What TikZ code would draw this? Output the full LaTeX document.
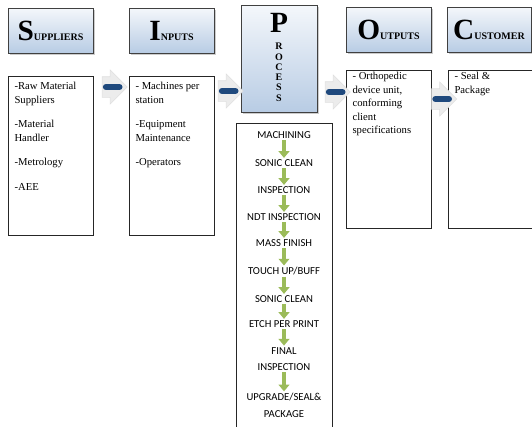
\documentclass[tikz,border=0pt]{standalone}
\usepackage{fontspec}
\setmainfont{Liberation Serif}
\newfontfamily\stagefont{Carlito}
\usetikzlibrary{arrows.meta,shapes.arrows,shadows}
\definecolor{headtop}{HTML}{F4F7FB}
\definecolor{headbot}{HTML}{B8CCE4}
\definecolor{barblue}{HTML}{1F497D}
\definecolor{stagegreen}{HTML}{9BBB59}

\begin{document}
\begin{tikzpicture}[x=0.75pt,y=-0.75pt]
    \tikzstyle{head}=[draw=black!75,top color=headtop,bottom color=headbot,
                      drop shadow={shadow xshift=1.2pt,shadow yshift=-1.2pt,fill=black!40},
                      minimum width=63.75pt,minimum height=33.75pt,inner sep=0pt]
    \tikzstyle{box}=[draw=black!85,line width=0.6pt,minimum width=63.75pt,
                     minimum height=119.25pt,inner sep=0pt]
    \tikzstyle{listtxt}=[anchor=north west,align=left,inner sep=2pt,
                         font=\fontsize{8}{10.1}\selectfont]
    \tikzstyle{stage}=[font=\stagefont\fontsize{8}{12.5}\selectfont,align=center,inner sep=1pt]
    \tikzstyle{stagearr}=[stagegreen,line width=3pt,-{Triangle[width=8pt,length=5pt]}]
    \tikzstyle{chev}=[single arrow,fill=gray!15,draw=gray!25,minimum height=18.75pt,
                      inner xsep=0pt,inner ysep=7.5pt,single arrow head extend=5pt]
    \tikzstyle{bar}=[barblue,line width=4.5pt,line cap=round,shorten <=3pt,shorten >=6pt]

    \clip (0,0) rectangle (532,426);

    \node[head] (sup) at (50.5,30.5)
        {\bfseries{\fontsize{22}{22}\selectfont S}{\fontsize{7.5}{7.5}\selectfont UPPLIERS}};
    \node[head] (inp) at (171.5,30.5)
        {\bfseries{\fontsize{22}{22}\selectfont I}{\fontsize{7.5}{7.5}\selectfont NPUTS}};
    \node[head,minimum width=57pt,minimum height=80.25pt] (proc) at (279,58.5) {};
    \node[font=\bfseries\fontsize{22}{22}\selectfont,inner sep=0pt] (procp) at (279,22.5) {P};
    \node[font=\bfseries\fontsize{7.5}{7.7}\selectfont,align=center,inner sep=0pt,
          anchor=north] (procl) at (279,43) {R\\O\\C\\E\\S\\S};
    \node[head] (outp) at (388.5,29.5)
        {\bfseries{\fontsize{22}{22}\selectfont O}{\fontsize{7.5}{7.5}\selectfont UTPUTS}};
    \node[head,minimum width=63pt] (cust) at (489,29.5)
        {\bfseries{\fontsize{22}{22}\selectfont C}{\fontsize{7.5}{7.5}\selectfont USTOMER}};

    \node[box] (supc) at (50.5,155.5) {};
    \node[listtxt] (supt) at ([xshift=3pt,yshift=-3pt]supc.north west)
        {-Raw Material\\Suppliers\\[8.3pt]-Material\\Handler\\[8.3pt]-Metrology\\[8.3pt]-AEE};
    \node[box] (inpc) at (171.5,155.5) {};
    \node[listtxt] (inpt) at ([xshift=3pt,yshift=-3pt]inpc.north west)
        {- Machines per\\station\\[8.3pt]-Equipment\\Maintenance\\[8.3pt]-Operators};
    \node[box,minimum width=72pt,minimum height=231pt] (procc) at (284,277) {};
    \node[box,minimum height=118.5pt] (outc) at (388.5,149) {};
    \node[listtxt] (outt) at ([xshift=3pt]outc.north west)
        {- Orthopedic\\device unit,\\conforming\\client\\specifications};
    \node[box,minimum width=66pt,minimum height=118.5pt] (custc) at (492,149) {};
    \node[listtxt] (custt) at ([xshift=3pt]custc.north west) {- Seal \&\\Package};

    \node[stage] (s1) at (284,135) {MACHINING};
    \node[stage] (s2) at (284,163) {SONIC CLEAN};
    \node[stage] (s3) at (284,190) {INSPECTION};
    \node[stage] (s4) at (284,217) {NDT INSPECTION};
    \node[stage] (s5) at (284,243) {MASS FINISH};
    \node[stage] (s6) at (284,271) {TOUCH UP/BUFF};
    \node[stage] (s7) at (284,299) {SONIC CLEAN};
    \node[stage] (s8) at (284,324) {ETCH PER PRINT};
    \node[stage] (s9) at (284,359) {FINAL\\INSPECTION};
    \node[stage] (s10) at (284,405) {UPGRADE/SEAL\&\\PACKAGE};
    \foreach \a/\b in {s1/s2,s2/s3,s3/s4,s4/s5,s5/s6,s6/s7,s7/s8,s8/s9,s9/s10}
        \draw[stagearr] (\a) -- (\b);

    \node[chev] (ch1) at (109.5,87) {};
    \node[chev] (ch2) at (225.5,91) {};
    \node[chev] (ch3) at (332.5,92) {};
    \node[chev] (ch4) at (439,99) {};
    \foreach \c in {ch1,ch2,ch3,ch4}
        \draw[bar] (\c.tail) -- (\c.tip);
\end{tikzpicture}
\end{document}
